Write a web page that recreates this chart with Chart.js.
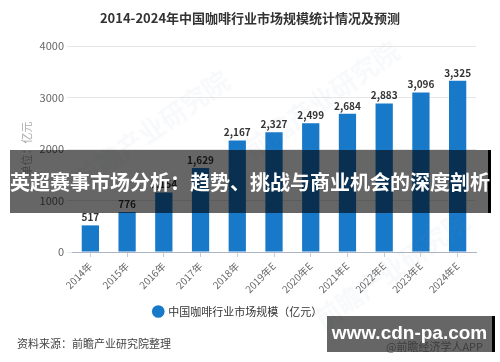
<!DOCTYPE html>
<html>
<head>
<meta charset="utf-8">
<script src="https://cdn.jsdelivr.net/npm/chart.js@4"></script>
<style>
  html, body { margin: 0; padding: 0; background: #fff; }
  #wrap { position: relative; width: 500px; height: 362px; overflow: hidden; font-family: "Noto Sans CJK SC", sans-serif; }
  canvas { position: absolute; left: 0; top: 0; }
  .title { position: absolute; left: 0; top: 8px; width: 500px; text-align: center; font-size: 13px; font-weight: bold; color: #333; }
  .wm { position: absolute; color: rgba(120, 140, 170, 0.05); font-size: 26px; font-weight: bold; transform: rotate(-35deg); white-space: nowrap; }
  .source { position: absolute; left: 17px; top: 335px; font-size: 11px; color: #444; }
  .app { position: absolute; left: 386px; top: 338px; font-size: 11px; color: #999; }
  .banner { position: absolute; left: 10px; top: 150px; width: 478px; height: 63px; background: rgba(0, 0, 0, 0.6); border-right: 3px solid #000;
            color: #fff; font-size: 20px; font-weight: bold; line-height: 63px; text-align: center; white-space: nowrap; }
  .site { position: absolute; left: 327px; top: 316px; width: 165px; height: 36px; background: rgba(0, 0, 0, 0.6); border-right: 3px solid #000;
          color: #fff; font-size: 19px; font-weight: bold; line-height: 34px; text-align: center; white-space: nowrap;
          font-family: "Liberation Sans", Arial, sans-serif; }
</style>
</head>
<body>
<div id="wrap">
  <canvas id="chart" width="500" height="362"></canvas>
  <div class="wm" style="left:60px;top:110px;">前瞻产业研究院</div>
  <div class="wm" style="left:230px;top:80px;">前瞻产业研究院</div>
  <div class="wm" style="left:300px;top:250px;">前瞻产业研究院</div>
  <div class="title">2014-2024年中国咖啡行业市场规模统计情况及预测</div>
  <div class="source">资料来源：前瞻产业研究院整理</div>
  <div class="app">@前瞻经济学人APP</div>
  <div class="banner">英超赛事市场分析：趋势、挑战与商业机会的深度剖析</div>
  <div class="site">www.cdn-pa.com</div>
</div>
<script>
const years = ["2014年", "2015年", "2016年", "2017年", "2018年", "2019年E", "2020年E", "2021年E", "2022年E", "2023年E", "2024年E"];
const marketSize = [517, 776, 1154, 1629, 2167, 2327, 2499, 2684, 2883, 3096, 3325];
const yTicks = [0, 1000, 2000, 3000, 4000];

const valueLabels = {
  id: "valueLabels",
  afterDatasetsDraw(chart) {
    const ctx = chart.ctx;
    const meta = chart.getDatasetMeta(0);
    ctx.save();
    ctx.font = "bold 10px 'Noto Sans CJK SC', sans-serif";
    ctx.fillStyle = "#333";
    ctx.textAlign = "center";
    ctx.textBaseline = "bottom";
    meta.data.forEach((bar, i) => {
      ctx.fillText(marketSize[i].toLocaleString("en-US"), bar.x, bar.y - 3);
    });
    ctx.restore();
  }
};

new Chart(document.getElementById("chart"), {
  type: "bar",
  data: {
    labels: years,
    datasets: [
      {
        label: "中国咖啡行业市场规模（亿元）",
        data: marketSize,
        backgroundColor: "#1879c9",
        categoryPercentage: 1,
        barPercentage: 0.47
      }
    ]
  },
  options: {
    responsive: false,
    animation: false,
    layout: {
      padding: { top: 46, left: 0, right: 24, bottom: 35 }
    },
    plugins: {
      tooltip: { enabled: false },
      legend: {
        position: "bottom",
        labels: {
          usePointStyle: true,
          pointStyle: "circle",
          boxWidth: 9,
          boxHeight: 9,
          padding: 10,
          color: "#333",
          font: { size: 11, family: "'Noto Sans CJK SC', sans-serif" }
        }
      }
    },
    scales: {
      x: {
        afterFit(scale) { scale.height = 44; },
        grid: { offset: false, drawOnChartArea: false, tickLength: 5, color: "#c8ccd4" },
        border: { color: "#aab4c4" },
        ticks: {
          maxRotation: 45,
          minRotation: 45,
          color: "#666",
          font: { size: 10, family: "'Noto Sans CJK SC', sans-serif" }
        }
      },
      y: {
        min: 0,
        max: 4000,
        afterFit(scale) { scale.width = 72; },
        afterBuildTicks(scale) { scale.ticks = yTicks.map(v => ({ value: v })); },
        grid: { color: "#e6e6e6", tickLength: 5 },
        border: { display: false },
        ticks: {
          padding: 3,
          color: "#666",
          callback: v => String(v),
          font: { size: 11, family: "'Noto Sans CJK SC', sans-serif" }
        },
        title: {
          display: true,
          text: "单位：亿元",
          color: "#aaa",
          padding: { top: 20, bottom: 0 },
          font: { size: 11, family: "'Noto Sans CJK SC', sans-serif" }
        }
      }
    }
  },
  plugins: [valueLabels]
});
</script>
</body>
</html>
